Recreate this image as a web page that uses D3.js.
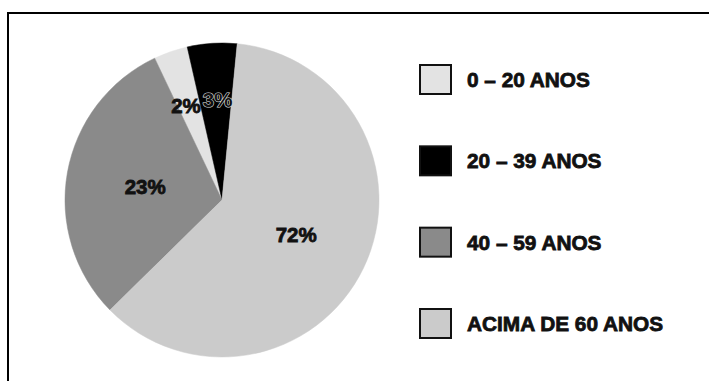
<!DOCTYPE html>
<html>
<head>
<meta charset="utf-8">
<script src="https://cdn.jsdelivr.net/npm/d3@7"></script>
<style>
  body { margin: 0; background: #fff; }
  svg { display: block; }
  text { font-family: "Liberation Sans", Arial, sans-serif; font-weight: bold; }
</style>
</head>
<body>
<svg id="chart" width="709" height="381"></svg>
<script>
// legend order
let categories = ['0 – 20 ANOS', '20 – 39 ANOS', '40 – 59 ANOS', 'ACIMA DE 60 ANOS'];
// share of the circle as drawn in the picture
let shares = [3.5, 5.1, 30.3, 61.1];
// percentages printed on the slices
let labels = ['2%', '3%', '23%', '72%'];
let colors = ['#e3e3e3', '#000000', '#8a8a8a', '#cbcbcb'];
// clockwise order of the slices starting at the light 0-20 slice
let pieOrder = [0, 1, 3, 2];

let svg = d3.select('#chart');

// frame (top + left only)
svg.append('path')
  .attr('d', 'M8,381V13H709')
  .attr('fill', 'none')
  .attr('stroke', '#000')
  .attr('stroke-width', 2);

let data = categories.map((c, i) => ({ name: c, value: shares[i], label: labels[i], color: colors[i], idx: i }));

let cx = 222, cy = 200, r = 157;
let deg = Math.PI / 180;

let pie = d3.pie()
  .value(d => d.value)
  .sort((a, b) => pieOrder.indexOf(a.idx) - pieOrder.indexOf(b.idx))
  .startAngle(-25.4 * deg)
  .endAngle(334.6 * deg);

let arcs = pie(data);
let arc = d3.arc().innerRadius(0).outerRadius(r);

let g = svg.append('g').attr('transform', 'translate(' + cx + ',' + cy + ')');

g.selectAll('path.slice')
  .data(arcs)
  .enter().append('path')
  .attr('class', 'slice')
  .attr('d', arc)
  .attr('fill', d => d.data.color)
  .attr('stroke', d => d.data.color)
  .attr('stroke-width', 0.5);

let labelArc = function(d) {
  let small = (d.endAngle - d.startAngle) < 0.5;
  let rr = small ? 101 : 80;
  return d3.arc().innerRadius(rr).outerRadius(rr).centroid(d);
};

g.selectAll('text.pct')
  .data(arcs)
  .enter().append('text')
  .attr('class', 'pct')
  .attr('x', d => labelArc(d)[0] + (d.data.idx == 0 ? -3 : 2))
  .attr('y', d => labelArc(d)[1] + 8)
  .attr('text-anchor', 'middle')
  .attr('font-size', 20.5)
  .attr('fill', '#111')
  .attr('stroke', d => d.data.idx == 1 ? '#ddd' : '#111')
  .attr('stroke-width', d => d.data.idx == 1 ? 1.2 : 0.8)
  .attr('paint-order', 'stroke')
  .text(d => d.data.label);

// legend
let ly = d3.scalePoint().domain(categories).range([79, 323]);

let leg = svg.append('g').selectAll('g')
  .data(data)
  .enter().append('g')
  .attr('transform', d => 'translate(0,' + ly(d.name) + ')');

leg.append('rect')
  .attr('x', 420).attr('y', -14)
  .attr('width', 31).attr('height', 29)
  .attr('fill', d => d.color)
  .attr('stroke', '#111')
  .attr('stroke-width', 2);

leg.append('text')
  .attr('x', 467).attr('y', 8)
  .attr('font-size', 20.8)
  .attr('fill', '#111')
  .attr('stroke', '#111')
  .attr('stroke-width', 0.8)
  .text(d => d.name);
</script>
</body>
</html>
